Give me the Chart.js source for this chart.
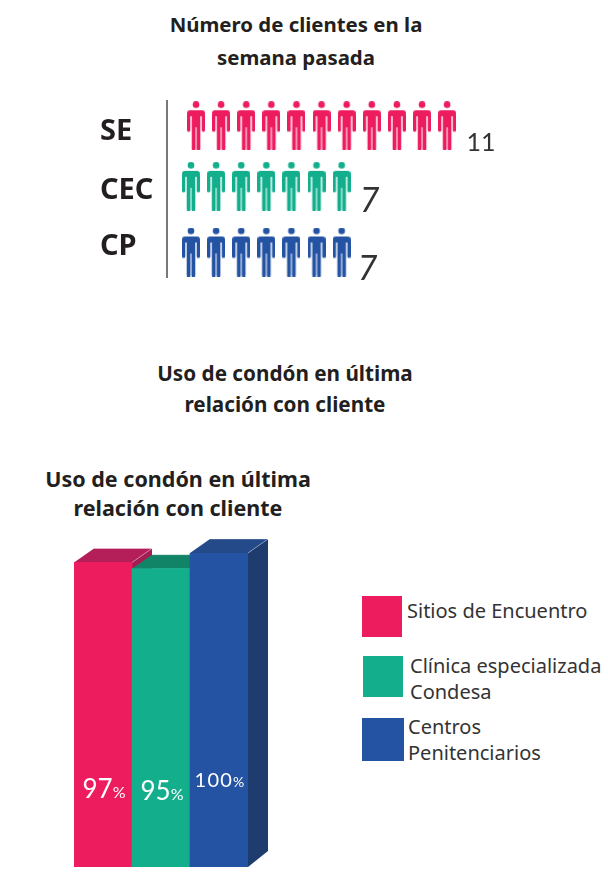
<!DOCTYPE html>
<html lang="es">
<head>
<meta charset="utf-8">
<title>Clientes y uso de condón</title>
<script src="https://cdn.jsdelivr.net/npm/chart.js@4"></script>
<style>
    body { margin: 0; background: #fff; width: 608px; height: 877px; position: relative; overflow: hidden; }
    canvas { position: absolute; }
    .title { position: absolute; transform: translateX(-50%); white-space: nowrap; text-align: center; font: bold 20px "Noto Sans", sans-serif; color: #231f20; }
    .swatch { position: absolute; }
    .legend-text { position: absolute; white-space: nowrap; font: 20px/26px "Noto Sans", sans-serif; color: #333; }
</style>
</head>
<body>
<div class="title" style="left:296px;top:8px;line-height:33px;font-size:20.4px">Número de clientes en la<br>semana pasada</div>
<div class="title" style="left:285px;top:358px;line-height:31px;font-size:20.7px">Uso de condón en última<br>relación con cliente</div>
<div class="title" style="left:178px;top:464px;line-height:29px;font-size:21.5px">Uso de condón en última<br>relación con cliente</div>
<canvas id="clientsChart" width="608" height="300" style="left:0;top:0"></canvas>
<canvas id="condomChart" width="340" height="357" style="left:0;top:520px"></canvas>
<div id="legend"></div>
<script>
    const siteCodes = ['SE', 'CEC', 'CP'];
    const clientCounts = [11, 7, 7];
    const siteNames = ['Sitios de Encuentro', 'Clínica especializada\nCondesa', 'Centros\nPenitenciarios'];
    const condomUse = [97, 95, 100];

    const faceColors = ['#ec1c5f', '#13af8d', '#2353a2'];
    const topColors = ['#b41f5a', '#118468', '#254a8a'];
    const sideColors = ['#a31d52', '#0f7a60', '#1f3c6e'];

    // the rows in the picture are not quite lined up, these nudge them
    const rowShiftX = [0.155, -0.045, -0.045];
    const rowShiftY = [-0.02, -0.05, 0];
    const codeTickRows = [0.08, 1.02, 1.92];

    function personIcon(color) {
        const c = document.createElement('canvas');
        c.width = 18;
        c.height = 49;
        const g = c.getContext('2d');
        g.fillStyle = color;
        g.beginPath();
        g.arc(9, 3.4, 3.3, 0, Math.PI * 2);
        g.fill();
        g.beginPath();
        g.roundRect(0, 9, 18, 6, 3.5);
        g.roundRect(0, 12, 3.3, 18.5, 1.6);
        g.roundRect(14.7, 12, 3.3, 18.5, 1.6);
        g.rect(4.7, 10, 8.6, 16);
        g.roundRect(4.7, 24, 3.8, 25, 1);
        g.roundRect(9.5, 24, 3.8, 25, 1);
        g.fill();
        return c;
    }

    const countLabels = {
        id: 'countLabels',
        afterDatasetsDraw(chart) {
            const ctx = chart.ctx;
            const xs = chart.scales.x;
            const ys = chart.scales.y;
            const fonts = ['25px Lato, sans-serif', 'italic 34px Lato, sans-serif', 'italic 34px Lato, sans-serif'];
            const gaps = [0.77, 0.72, 0.64];
            const drops = [25, 26, 28];
            ctx.save();
            ctx.fillStyle = '#333';
            ctx.textAlign = 'left';
            ctx.textBaseline = 'alphabetic';
            clientCounts.forEach((n, i) => {
                ctx.font = fonts[i];
                ctx.fillText(String(n), xs.getPixelForValue(n + rowShiftX[i] + gaps[i]), ys.getPixelForValue(i + rowShiftY[i]) + drops[i]);
            });
            ctx.restore();
        }
    };

    new Chart(document.getElementById('clientsChart'), {
        type: 'scatter',
        data: {
            datasets: siteCodes.map((code, row) => ({
                label: code,
                data: Array.from({ length: clientCounts[row] }, (_, i) => ({ x: i + 1 + rowShiftX[row], y: row + rowShiftY[row] })),
                pointStyle: personIcon(faceColors[row]),
                pointRadius: 9,
                clip: false
            }))
        },
        options: {
            responsive: false,
            animation: false,
            devicePixelRatio: 1,
            layout: { padding: { left: 100, top: 101, right: 102, bottom: 23 } },
            plugins: { legend: { display: false }, tooltip: { enabled: false } },
            scales: {
                x: { display: false, min: 0, max: 13.5 },
                y: {
                    reverse: true,
                    min: -0.416,
                    max: 2.4,
                    afterFit(axis) { axis.width = 67; },
                    afterBuildTicks(axis) { axis.ticks = codeTickRows.map(v => ({ value: v })); },
                    grid: { display: false },
                    border: { display: true, color: '#77787b', width: 2 },
                    ticks: {
                        autoSkip: false,
                        crossAlign: 'far',
                        color: '#231f20',
                        font: { family: '"Noto Sans", sans-serif', size: 29, weight: 'bold' },
                        callback: (v, i) => siteCodes[i]
                    }
                }
            }
        },
        plugins: [countLabels]
    });

    const depthX = 20;
    const depthTop = 14;
    const depthBase = 16;

    // side and top faces go behind the flat bars, the left ones first
    const boxDepth = {
        id: 'boxDepth',
        beforeDatasetsDraw(chart) {
            const ctx = chart.ctx;
            const base = chart.scales.y.getPixelForValue(0);
            chart.getDatasetMeta(0).data.forEach((bar, i) => {
                const left = bar.x - bar.width / 2;
                const right = bar.x + bar.width / 2;
                ctx.fillStyle = sideColors[i];
                ctx.beginPath();
                ctx.moveTo(right, bar.y);
                ctx.lineTo(right + depthX, bar.y - depthTop);
                ctx.lineTo(right + depthX, base - depthBase);
                ctx.lineTo(right, base);
                ctx.closePath();
                ctx.fill();
                ctx.fillStyle = topColors[i];
                ctx.beginPath();
                ctx.moveTo(left, bar.y);
                ctx.lineTo(left + depthX, bar.y - depthTop);
                ctx.lineTo(right + depthX, bar.y - depthTop);
                ctx.lineTo(right, bar.y);
                ctx.closePath();
                ctx.fill();
                ctx.strokeStyle = 'rgba(255,255,255,0.3)';
                ctx.lineWidth = 1;
                ctx.beginPath();
                ctx.moveTo(left + depthX, bar.y - depthTop);
                ctx.lineTo(right + depthX, bar.y - depthTop);
                ctx.moveTo(right, bar.y);
                ctx.lineTo(right + depthX, bar.y - depthTop);
                ctx.stroke();
            });
        },
        afterDatasetsDraw(chart) {
            const ctx = chart.ctx;
            const ys = chart.scales.y;
            const numberSizes = [26, 26, 20];
            const percentSizes = [16, 16, 14];
            const spacings = ['0px', '0px', '1.2px'];
            const labelLevels = [22, 21.3, 25.5];
            ctx.save();
            ctx.fillStyle = '#fff';
            ctx.textAlign = 'left';
            ctx.textBaseline = 'alphabetic';
            chart.getDatasetMeta(0).data.forEach((bar, i) => {
                const y = ys.getPixelForValue(labelLevels[i]);
                const numFont = numberSizes[i] + 'px Lato, sans-serif';
                const pctFont = percentSizes[i] + 'px Lato, sans-serif';
                ctx.letterSpacing = spacings[i];
                ctx.font = numFont;
                const numW = ctx.measureText(String(condomUse[i])).width;
                ctx.font = pctFont;
                const pctW = ctx.measureText('%').width;
                const x = bar.x + 1 - (numW + pctW) / 2;
                ctx.font = numFont;
                ctx.fillText(String(condomUse[i]), x, y);
                ctx.font = pctFont;
                ctx.fillText('%', x + numW, y);
            });
            ctx.restore();
        }
    };

    new Chart(document.getElementById('condomChart'), {
        type: 'bar',
        data: {
            labels: siteNames,
            datasets: [{
                data: condomUse,
                backgroundColor: faceColors,
                barPercentage: 1,
                categoryPercentage: 1
            }]
        },
        options: {
            responsive: false,
            animation: false,
            devicePixelRatio: 1,
            layout: { padding: { left: 74, right: 92, top: 33, bottom: 10 } },
            plugins: { legend: { display: false }, tooltip: { enabled: false } },
            scales: {
                x: { display: false },
                y: { display: false, min: 0, max: 100 }
            }
        },
        plugins: [boxDepth]
    });

    // legend next to the bars
    const legendSpots = [
        { sx: 362, sy: 596, sw: 40, sh: 41, tx: 407, ty: 598 },
        { sx: 363, sy: 656, sw: 40, sh: 41, tx: 410, ty: 653 },
        { sx: 362, sy: 718, sw: 42, sh: 43, tx: 408, ty: 714 }
    ];
    const legend = document.getElementById('legend');
    siteNames.forEach((name, i) => {
        const p = legendSpots[i];
        const box = document.createElement('div');
        box.className = 'swatch';
        box.style.cssText = `left:${p.sx}px;top:${p.sy}px;width:${p.sw}px;height:${p.sh}px;background:${faceColors[i]}`;
        legend.appendChild(box);
        const text = document.createElement('div');
        text.className = 'legend-text';
        text.style.left = p.tx + 'px';
        text.style.top = p.ty + 'px';
        text.innerHTML = name.replace('\n', '<br>');
        legend.appendChild(text);
    });
</script>
</body>
</html>
